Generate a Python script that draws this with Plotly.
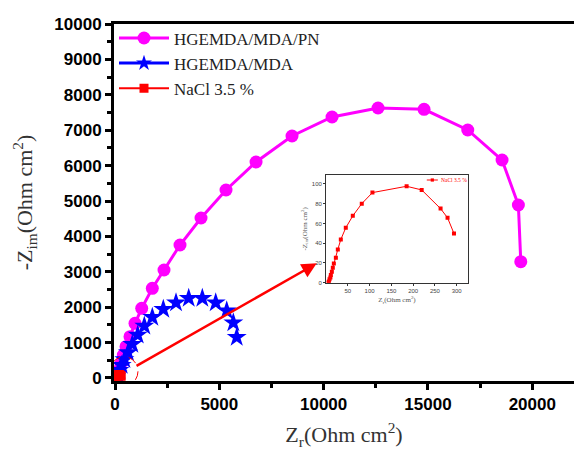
import plotly.graph_objects as go

# ---- data ----
pn_x = [158, 192, 288, 398, 527, 719, 959, 1280, 1788, 2349, 3116, 4123, 5321, 6760,
        8485, 10403, 12608, 14813, 16908, 18552, 19334, 19449]
pn_y = [37, 226, 415, 650, 884, 1167, 1545, 1969, 2534, 3051, 3757, 4520, 5311, 6102,
        6836, 7373, 7627, 7590, 7006, 6158, 4887, 3285]

mda_x = [60, 120, 210, 320, 450, 620, 829, 1088, 1405, 1788, 2315, 2924, 3533, 4185,
         4827, 5355, 5671, 5834]
mda_y = [40, 110, 220, 360, 520, 720, 952, 1215, 1469, 1715, 1941, 2127, 2251, 2251,
         2127, 1901, 1562, 1150]

nacl_x = [5.7, 6.5, 8, 10, 11, 13.3, 15.5, 17.9, 22.5, 27, 33.9, 45.3, 61.4, 82,
          106.5, 185, 219.6, 263, 279, 293.8]
nacl_y = [0.3, 1.3, 3.4, 5.4, 7.7, 11, 15.2, 19.5, 25.3, 33.7, 43.8, 55.6, 67.7, 80,
          91.2, 97.6, 93.9, 75, 65.7, 49.8]

names = ["HGEMDA/MDA/PN", "HGEMDA/MDA", "NaCl 3.5 %"]
main_xticks = [0, 5000, 10000, 15000, 20000]
main_yticks = [0, 1000, 2000, 3000, 4000, 5000, 6000, 7000, 8000, 9000, 10000]
inset_xticks = [50, 100, 150, 200, 250, 300]
inset_yticks = [0, 20, 40, 60, 80, 100]

# zoom marker (ellipse around origin) and arrow, in main data units
zoom_cx, zoom_cy, zoom_rx, zoom_ry = 431, 189, 671, 415
arrow_from = (959, 319)
arrow_to = (9669, 3240)

MAG, BLUE, RED = "#FF00FF", "#0000FF", "#FF0000"
serif = "Liberation Serif, Times New Roman, serif"
sans = "Liberation Sans, Arial, sans-serif"

fig = go.Figure()
fig.add_trace(go.Scatter(x=pn_x, y=pn_y, mode="lines+markers", name=names[0],
                         line=dict(color=MAG, width=3),
                         marker=dict(symbol="circle", size=13, color=MAG)))
fig.add_trace(go.Scatter(x=mda_x, y=mda_y, mode="markers", name=names[1], showlegend=False,
                         marker=dict(symbol="star", size=15, color=BLUE)))
fig.add_trace(go.Scatter(x=[None], y=[None], mode="lines+markers", name=names[1],
                         line=dict(color=BLUE, width=3),
                         marker=dict(symbol="star", size=12, color=BLUE)))
fig.add_trace(go.Scatter(x=nacl_x, y=nacl_y, mode="lines+markers", name=names[2],
                         line=dict(color=RED, width=2),
                         marker=dict(symbol="square", size=9, color=RED)))
# inset
fig.add_trace(go.Scatter(x=nacl_x, y=nacl_y, mode="lines+markers", name=names[2],
                         showlegend=False, xaxis="x2", yaxis="y2",
                         line=dict(color=RED, width=1),
                         marker=dict(symbol="square", size=4, color=RED)))

axis_common = dict(showline=True, linecolor="black", linewidth=3, ticks="outside",
                   ticklen=6, tickwidth=2.5, tickcolor="black", showgrid=False,
                   zeroline=False,
                   tickfont=dict(family=sans, size=17, color="black", weight="bold"))

fig.update_layout(
    width=574, height=450,
    margin=dict(l=114, r=0, t=24, b=69),
    paper_bgcolor="white", plot_bgcolor="white",
    xaxis=dict(range=[-48, 22000], tickvals=main_xticks, ticktext=[str(v) for v in main_xticks],
               mirror=True,
               minor=dict(dtick=2500, ticks="outside", ticklen=4, tickwidth=2.5, tickcolor="black"),
               title=dict(text="Z<sub>r</sub>(Ohm cm<sup>2</sup>)",
                          font=dict(family=serif, size=22, color="#333"), standoff=14),
               **axis_common),
    yaxis=dict(range=[-85, 10000], tickvals=main_yticks, ticktext=[str(v) for v in main_yticks],
               minor=dict(dtick=500, ticks="outside", ticklen=4, tickwidth=2.5, tickcolor="black"),
               title=dict(text="-Z<sub>im</sub>(Ohm cm<sup>2</sup>)",
                          font=dict(family=serif, size=22, color="#333"), standoff=16),
               **axis_common),
    xaxis2=dict(domain=[0.461, 0.7696], anchor="y2", range=[0, 326], tickvals=inset_xticks,
                showline=True, linecolor="#333", linewidth=1, mirror=True, ticks="outside",
                ticklen=2, tickwidth=1, tickcolor="#333", showgrid=False, zeroline=False,
                tickfont=dict(family=sans, size=6, color="#444"),
                title=dict(text="Z<sub>r</sub>(Ohm cm<sup>2</sup>)",
                           font=dict(family=serif, size=7, color="#555"), standoff=4)),
    yaxis2=dict(domain=[0.2753, 0.577], anchor="x2", range=[0, 109], tickvals=inset_yticks,
                showline=True, linecolor="#333", linewidth=1, mirror=True, ticks="outside",
                ticklen=2, tickwidth=1, tickcolor="#333", showgrid=False, zeroline=False,
                tickfont=dict(family=sans, size=6, color="#444"),
                title=dict(text="-Z<sub>im</sub>(Ohm cm<sup>2</sup>)",
                           font=dict(family=serif, size=7, color="#555"), standoff=3)),
    legend=dict(x=0.0, y=1.01, xanchor="left", yanchor="top", bgcolor="rgba(0,0,0,0)",
                font=dict(family=serif, size=17, color="#222"), tracegroupgap=0,
                itemwidth=50),
    showlegend=True,
)

# dashed ellipse around origin
fig.add_shape(type="circle", xref="x", yref="y",
              x0=zoom_cx - zoom_rx, x1=zoom_cx + zoom_rx,
              y0=zoom_cy - zoom_ry, y1=zoom_cy + zoom_ry,
              line=dict(color=RED, width=1, dash="dash"))
# arrow to inset
fig.add_annotation(x=arrow_to[0], y=arrow_to[1], ax=arrow_from[0], ay=arrow_from[1],
                   xref="x", yref="y", axref="x", ayref="y", text="", showarrow=True,
                   arrowhead=2, arrowsize=1.2, arrowwidth=2.5, arrowcolor=RED)

# inset legend (glyph + label) in paper coordinates
fig.add_shape(type="line", xref="paper", yref="paper", x0=0.68, x1=0.704, y0=0.563, y1=0.563,
              line=dict(color=RED, width=1))
fig.add_shape(type="rect", xref="paper", yref="paper", x0=0.6885, x1=0.6955, y0=0.5585, y1=0.5675,
              line=dict(width=0), fillcolor=RED)
fig.add_annotation(x=0.7065, y=0.563, xref="paper", yref="paper", xanchor="left", yanchor="middle",
                   text=names[2], showarrow=False,
                   font=dict(family=serif, size=5.5, color=RED))

fig.write_html("out.html")
